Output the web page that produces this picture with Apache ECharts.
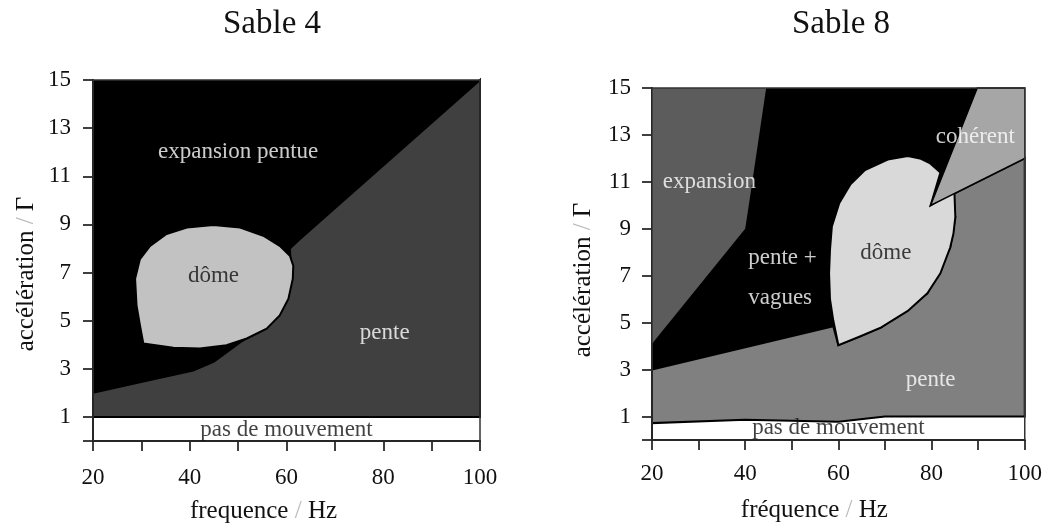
<!DOCTYPE html>
<html>
<head>
<meta charset="utf-8">
<script src="https://cdn.jsdelivr.net/npm/echarts@6/dist/echarts.min.js"></script>
<style>
  html, body { margin: 0; padding: 0; background: #fff; }
  #main { width: 1045px; height: 529px; }
</style>
</head>
<body>
<div id="main"></div>
<script>
// axes
var freqTicks = [20, 30, 40, 50, 60, 70, 80, 90, 100];
var accelTicks = [0, 1, 3, 5, 7, 9, 11, 13, 15];
var accelLabels = [1, 3, 5, 7, 9, 11, 13, 15];

// Sable 4 : contours des regimes [frequence, acceleration]
var fond4 = [[20, 1], [100, 1], [100, 15], [20, 15]];
var pente4 = [[20, 1], [20, 2], [30.4, 2.47], [40.7, 2.93], [45, 3.3], [50.4, 4.1], [55.9, 4.8],
  [58.6, 5.5], [61, 7], [60.7, 8.0], [62.8, 8.39], [100, 15], [100, 1]];
var dome4 = [[30.4, 4.05], [36.6, 3.87], [42.1, 3.84], [47.6, 3.98], [51.8, 4.26], [55.9, 4.67],
  [58.6, 5.22], [60.4, 5.91], [61.3, 6.74], [61.4, 7.29], [60.7, 7.7], [58.6, 8.11], [55.2, 8.53],
  [50.4, 8.87], [44.9, 8.98], [39.4, 8.87], [35.2, 8.6], [31.8, 8.11], [29.7, 7.56], [28.7, 6.74],
  [29.0, 5.63], [29.7, 4.81]];
var labelsBlanc4 = [[50, 12, 'expansion pentue'], [80.3, 4.5, 'pente']];
var labelsNoir4 = [[44.9, 6.85, 'dôme'], [60, 0.45, 'pas de mouvement']];

// Sable 8
var fond8 = [[20, 1], [100, 1], [100, 15], [20, 15]];
var expansion8 = [[20, 15], [44.5, 15], [41, 10.3], [40, 9], [20, 4.1]];
var pente8 = [[20, 0.72], [20, 3], [40, 3.95], [58.9, 4.85], [60, 4.04], [69.2, 4.8], [79.1, 6.25],
  [84, 8.2], [85.1, 9.5], [79.8, 10], [100, 12], [100, 1], [70, 1], [60, 0.78], [40, 0.86]];
var dome8 = [[60, 4.04], [58.9, 5.1], [58.2, 6], [58, 7.1], [58.2, 8.1], [58.6, 9.1], [60.2, 10.1],
  [62.6, 10.9], [65.7, 11.5], [70.6, 11.95], [74.9, 12.1], [77.5, 12.0], [79.6, 11.8], [81.9, 11.4],
  [79.8, 10], [84.9, 10.6], [85.1, 9.5], [84.7, 8.8], [84, 8.2], [81.9, 7.1], [79.1, 6.25],
  [74.9, 5.5], [69.2, 4.8], [64.5, 4.4]];
var coherent8 = [[79.8, 10], [89.8, 15], [100, 15], [100, 12]];
var labelsBlanc8 = [[32.3, 11, 'expansion'], [48, 7.75, 'pente +'], [47.5, 6.05, 'vagues'],
  [89.4, 12.9, 'cohérent'], [79.8, 2.54, 'pente']];
var labelsNoir8 = [[70.2, 7.97, 'dôme'], [60, 0.5, 'pas de mouvement']];

var cadre = [[20, 0], [100, 0], [100, 15], [20, 15]];

var police = 'Liberation Serif';

//polygone dans le repere de la grille
function zone(idx, pts, fill, stroke, lw, z) {
  return {
    type: 'custom',
    xAxisIndex: idx,
    yAxisIndex: idx,
    z: z || 2,
    silent: true,
    data: [0],
    renderItem: function (params, api) {
      var points = pts.map(function (p) {
        return api.coord(p);
      });
      return {
        type: 'polygon',
        shape: {points: points},
        style: {fill: fill, stroke: stroke || null, lineWidth: lw || 0}
      };
    }
  };
}

//etiquettes des regimes
function etiquettes(idx, data, color) {
  return {
    type: 'scatter',
    xAxisIndex: idx,
    yAxisIndex: idx,
    z: 10,
    silent: true,
    symbolSize: 0,
    data: data.map(function (d) {
      return {value: [d[0], d[1]], name: d[2]};
    }),
    label: {
      show: true,
      position: 'inside',
      formatter: '{b}',
      color: color,
      fontFamily: police,
      fontSize: 23
    }
  };
}

function axeX(idx, nom, margin, pad) {
  return {
    type: 'value',
    gridIndex: idx,
    min: 20,
    max: 100,
    interval: 10,
    name: nom,
    nameLocation: 'middle',
    nameGap: 58,
    nameTextStyle: {fontFamily: police, fontSize: 25, color: '#111', padding: [0, pad, 0, 0],
      rich: {s: {color: '#bbb', fontFamily: police, fontSize: 25}}},
    axisLine: {onZero: false, lineStyle: {color: '#000', width: 2}},
    axisTick: {length: 10, lineStyle: {color: '#000', width: 1.5}},
    splitLine: {show: false},
    axisLabel: {
      margin: margin,
      fontFamily: police,
      fontSize: 23,
      color: '#111',
      formatter: function (v) {
        return v % 20 === 0 ? v : '';
      }
    }
  };
}

function axeY(idx, gap, margin, pad) {
  return {
    type: 'value',
    gridIndex: idx,
    min: 0,
    max: 15,
    name: 'accélération {s|/} Γ',
    nameLocation: 'middle',
    nameGap: gap,
    nameTextStyle: {fontFamily: police, fontSize: 25, color: '#111', padding: [0, pad, 0, 0],
      rich: {s: {color: '#bbb', fontFamily: police, fontSize: 25}}},
    axisLine: {onZero: false, lineStyle: {color: '#000', width: 2}},
    axisTick: {length: 10, customValues: accelTicks, lineStyle: {color: '#000', width: 1.5}},
    splitLine: {show: false},
    axisLabel: {
      margin: margin,
      customValues: accelLabels,
      fontFamily: police,
      fontSize: 23,
      color: '#111'
    }
  };
}

var chart = echarts.init(document.getElementById('main'));
var option = {
  backgroundColor: '#fff',
  animation: false,
  title: [
    {text: 'Sable 4', left: 267, top: 3, textAlign: 'center',
      textStyle: {fontFamily: police, fontSize: 33, fontWeight: 'normal', color: '#111'}},
    {text: 'Sable 8', left: 836, top: 3, textAlign: 'center',
      textStyle: {fontFamily: police, fontSize: 33, fontWeight: 'normal', color: '#111'}}
  ],
  grid: [
    {left: 93, top: 80, width: 387, height: 363},
    {left: 652, top: 88, width: 376, height: 352}
  ],
  xAxis: [
    axeX(0, 'frequence {s|/} Hz', 25, 46),
    axeX(1, 'fréquence {s|/} Hz', 22, 48)
  ],
  yAxis: [
    axeY(0, 54, 22, 27),
    axeY(1, 56, 21, 32)
  ],
  series: [
    zone(0, fond4, '#000'),
    zone(0, pente4, '#404040', '#000', 2),
    zone(0, dome4, '#c2c2c2', '#000', 2),
    zone(0, cadre, 'none', '#333', 1.5, 5),
    etiquettes(0, labelsBlanc4, '#fff'),
    etiquettes(0, labelsNoir4, '#111'),

    zone(1, fond8, '#000'),
    zone(1, expansion8, '#5c5c5c'),
    zone(1, pente8, '#808080', '#000', 2),
    zone(1, dome8, '#d9d9d9', '#000', 2),
    zone(1, coherent8, '#a6a6a6', '#000', 1.5),
    zone(1, cadre, 'none', '#333', 1.5, 5),
    etiquettes(1, labelsBlanc8, '#fff'),
    etiquettes(1, labelsNoir8, '#111')
  ]
};
chart.setOption(option);
</script>
</body>
</html>
